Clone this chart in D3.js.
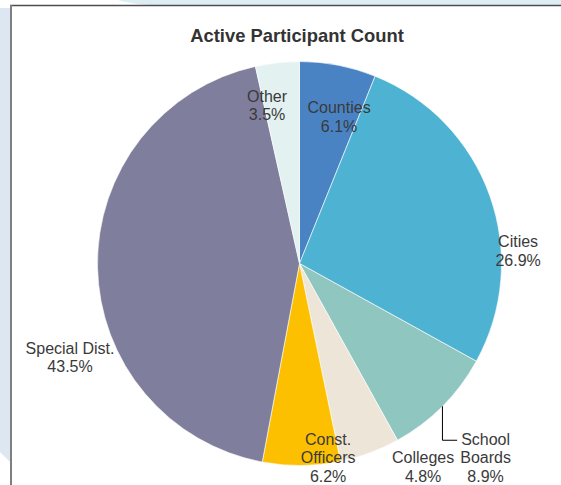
<!DOCTYPE html>
<html>
<head>
<meta charset="utf-8">
<script src="https://cdn.jsdelivr.net/npm/d3@7"></script>
<style>
  body { margin: 0; background: #fff; }
  text { font-family: Arial, "Liberation Sans", sans-serif; }
</style>
</head>
<body>
<div class="box"></div>
<script>
// DATA
const categories = ['Counties', 'Cities', 'School Boards', 'Colleges', 'Const. Officers', 'Special Dist.', 'Other'];
const shares = [6.1, 26.9, 8.9, 4.8, 6.2, 43.5, 3.5];
const labelLines = [['Counties'], ['Cities'], ['School', 'Boards'], ['Colleges'], ['Const.', 'Officers'], ['Special Dist.'], ['Other']];
const sliceColors = ['#4a83c3', '#4eb2d2', '#8fc6c0', '#ede5d7', '#fdc000', '#7f7e9c', '#e4f1f1'];

// label placement, like the hand-moved labels of the original (angle in degrees, radius as share of pie radius)
const labelAngle = [15.1, 86.7, 136.2, 148.7, 171.6, 247.8, 348.4];
const labelRadius = [0.752, 1.084, 1.331, 1.178, 0.970, 1.227, 0.80];

// SETUP
const width = 561, height = 485;
const cx = 299.5, cy = 263.5, radius = 202;

const svg = d3.select('.box')
              .append('svg')
              .attr('width', width)
              .attr('height', height);

// page decoration behind the chart frame
svg.append('path')
   .attr('d', 'M118,0 Q130,4 150,5 L561,5 L561,0 Z')
   .attr('fill', '#dcedf4');
svg.append('path')
   .attr('d', 'M0,8 L10,8 L10,462 L0,452 Z')
   .attr('fill', '#dde7f1');

// frame
svg.append('line').attr('x1', 10).attr('y1', 5.5).attr('x2', width).attr('y2', 5.5)
   .attr('stroke', '#4d4d4d').attr('stroke-width', 1.5);
svg.append('line').attr('x1', 11).attr('y1', 5).attr('x2', 11).attr('y2', height)
   .attr('stroke', '#7f7f7f').attr('stroke-width', 2);

// title
svg.append('text')
   .text('Active Participant Count')
   .attr('x', 297)
   .attr('y', 42)
   .attr('text-anchor', 'middle')
   .style('font-size', '18.4px')
   .style('font-weight', 'bold')
   .attr('fill', '#333333');

const graph = svg.append('g')
                 .attr('transform', `translate(${cx}, ${cy})`);

const rows = categories.map((c, i) => ({name: c, value: shares[i], i: i}));

const pie = d3.pie()
              .sort(null)
              .value(d => d.value);

const arc = d3.arc()
              .innerRadius(0)
              .outerRadius(radius);

const arcs = pie(rows);

graph.selectAll('path.slice')
     .data(arcs)
     .enter()
     .append('path')
     .attr('class', 'slice')
     .attr('d', arc)
     .attr('fill', d => sliceColors[d.data.i])
     .attr('stroke', '#ffffff')
     .attr('stroke-width', 0.6);

// labels
const lineHeight = 18.5;
const toRad = a => a * Math.PI / 180;

const labels = graph.selectAll('text.label')
     .data(arcs)
     .enter()
     .append('text')
     .attr('class', 'label')
     .attr('text-anchor', 'middle')
     .style('font-size', '16px')
     .attr('fill', '#3a3a3a')
     .each(function(d) {
       const i = d.data.i;
       const p = d3.pointRadial(toRad(labelAngle[i]), radius * labelRadius[i]);
       const lines = labelLines[i].concat([d.data.value.toFixed(1) + '%']);
       const first = p[1] - (lines.length - 1) * lineHeight / 2 + 5.7;
       d3.select(this).selectAll('tspan')
         .data(lines)
         .enter()
         .append('tspan')
         .attr('x', p[0])
         .attr('y', (l, k) => first + k * lineHeight)
         .text(l => l);
     });

// leader line for School Boards
const sb = arcs[2];
const sbLabel = labels.filter(d => d.data.i === 2);
const firstLine = sbLabel.select('tspan');
const bb = firstLine.node().getBBox();
const start = d3.pointRadial((sb.startAngle + sb.endAngle) / 2, radius);
const elbowY = bb.y + bb.height / 2 + 1;
graph.append('path')
     .attr('d', d3.line()([start, [start[0], elbowY], [bb.x - 4, elbowY]]))
     .attr('fill', 'none')
     .attr('stroke', '#000000')
     .attr('stroke-width', 1);
</script>
</body>
</html>
